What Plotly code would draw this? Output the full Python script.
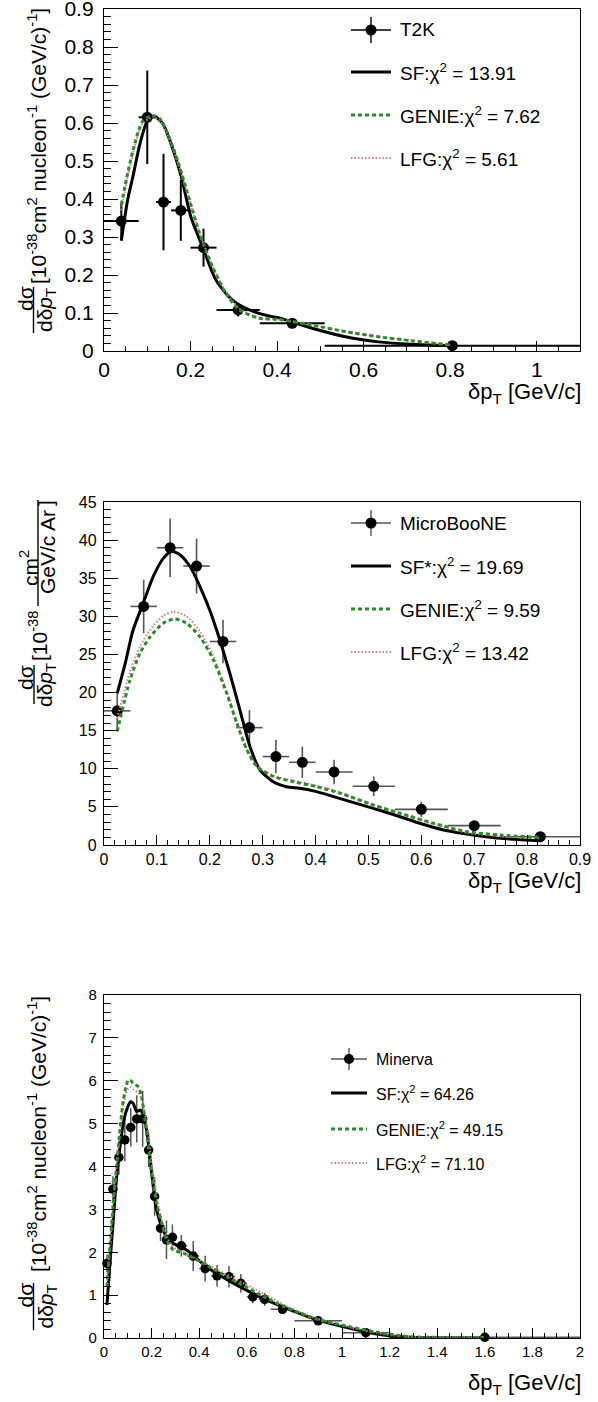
import numpy as np
import plotly.graph_objects as go

W, H = 598, 1402
FONT = "Liberation Sans, Arial, sans-serif"
GREEN = "#2c8c2c"
PINK = "#e27a8c"
ERRGRAY = "#555555"

# ---------------- T2K ----------------
t2k_edges = [0.0, 0.08, 0.12, 0.155, 0.2, 0.26, 0.36, 0.51, 1.1]
t2k_xsec = [0.342, 0.615, 0.392, 0.370, 0.272, 0.108, 0.073, 0.014]
t2k_err = [0.046, 0.123, 0.127, 0.080, 0.050, 0.017, 0.008, 0.004]

t2k_sf_x = [0.04, 0.055, 0.067, 0.083, 0.1, 0.117, 0.136, 0.155, 0.179, 0.201, 0.228, 0.259,
            0.297, 0.336, 0.389, 0.405, 0.481, 0.558, 0.634, 0.711, 0.8]
t2k_sf_y = [0.29, 0.40, 0.46, 0.545, 0.605, 0.617, 0.598, 0.545, 0.457, 0.352, 0.274, 0.186,
            0.134, 0.108, 0.090, 0.087, 0.060, 0.0375, 0.024, 0.0175, 0.014]
t2k_genie_x = [0.04, 0.055, 0.067, 0.08, 0.09, 0.113, 0.13, 0.144, 0.16, 0.175, 0.198, 0.221,
               0.251, 0.282, 0.313, 0.359, 0.405, 0.481, 0.558, 0.634, 0.711, 0.8]
t2k_genie_y = [0.385, 0.47, 0.528, 0.58, 0.606, 0.62, 0.61, 0.58, 0.535, 0.484, 0.396, 0.309,
               0.221, 0.151, 0.108, 0.086, 0.083, 0.068, 0.051, 0.0375, 0.027, 0.016]
t2k_lfg_x = t2k_genie_x
t2k_lfg_y = [0.37, 0.46, 0.52, 0.575, 0.60, 0.615, 0.605, 0.575, 0.53, 0.48, 0.395, 0.31,
             0.224, 0.155, 0.112, 0.088, 0.083, 0.069, 0.052, 0.038, 0.027, 0.016]

# ---------------- MicroBooNE ----------------
ub_edges = [0.0, 0.05, 0.1, 0.15, 0.2, 0.25, 0.3, 0.35, 0.4, 0.47, 0.55, 0.65, 0.75, 0.9]
ub_xsec = [17.6, 31.3, 39.0, 36.6, 26.7, 15.4, 11.6, 10.85, 9.58, 7.70, 4.68, 2.54, 1.09]
ub_err = [2.5, 3.5, 3.85, 3.6, 2.85, 2.3, 2.2, 2.05, 1.6, 1.3, 1.0, 0.5, 0.2]

ub_sf_x = [0.025, 0.040, 0.055, 0.074, 0.093, 0.112, 0.128, 0.144, 0.163, 0.1815, 0.200, 0.219,
           0.238, 0.257, 0.276, 0.295, 0.32, 0.345, 0.37, 0.402, 0.434, 0.509, 0.56, 0.597,
           0.642, 0.698, 0.749, 0.825]
ub_sf_y = [19.9, 23.8, 28.2, 31.7, 35.2, 37.6, 38.5, 38.05, 36.5, 33.9, 30.8, 26.9,
           22.5, 17.7, 12.9, 9.84, 8.3, 7.65, 7.44, 7.0, 6.34, 4.81, 3.71, 2.85,
           1.97, 1.31, 0.87, 0.56]
ub_genie_x = [0.025, 0.049, 0.068, 0.087, 0.112, 0.134, 0.156, 0.1815, 0.2067, 0.232, 0.251,
              0.270, 0.289, 0.32, 0.358, 0.402, 0.446, 0.509, 0.56, 0.623, 0.686, 0.749, 0.825]
ub_genie_y = [14.9, 21.6, 25.15, 27.3, 29.1, 29.65, 29.1, 27.3, 24.3, 19.9, 16.0,
              12.5, 10.3, 9.0, 8.3, 7.65, 6.8, 5.25, 4.16, 2.85, 1.75, 1.31, 1.0]
ub_lfg_x = [0.025, 0.049, 0.068, 0.087, 0.112, 0.132, 0.156, 0.1815, 0.2067, 0.232, 0.251,
            0.270, 0.289, 0.32, 0.358, 0.402, 0.446, 0.509, 0.56, 0.623, 0.686, 0.749, 0.825]
ub_lfg_y = [16.6, 22.7, 26.0, 28.2, 30.1, 30.6, 30.0, 28.0, 24.8, 20.2, 16.2,
            12.6, 10.4, 9.1, 8.45, 7.8, 6.9, 5.3, 4.15, 2.75, 1.6, 1.15, 0.85]

# ---------------- Minerva ----------------
mn_edges = [0.0, 0.025, 0.05, 0.075, 0.1, 0.125, 0.15, 0.175, 0.2, 0.225, 0.25, 0.275, 0.3,
            0.35, 0.4, 0.45, 0.5, 0.55, 0.6, 0.65, 0.7, 0.8, 1.0, 1.2, 2.0]
mn_xsec = [1.74, 3.47, 4.21, 4.62, 4.91, 5.11, 5.11, 4.385, 3.30, 2.56, 2.29, 2.35, 2.15,
           1.91, 1.62, 1.45, 1.43, 1.275, 0.96, 0.90, 0.67, 0.40, 0.124, 0.016]
mn_err = [0.2, 0.3, 0.4, 0.5, 0.45, 0.55, 0.65, 0.4, 0.45, 0.3, 0.45, 0.3, 0.25,
          0.35, 0.3, 0.25, 0.25, 0.22, 0.15, 0.15, 0.1, 0.08, 0.04, 0.01]

mn_sf_x = [0.0125, 0.025, 0.039, 0.053, 0.067, 0.081, 0.095, 0.112, 0.123, 0.137, 0.152, 0.165,
           0.179, 0.193, 0.207, 0.221, 0.242, 0.263, 0.291, 0.347, 0.431, 0.543, 0.655, 0.753,
           0.824, 0.893, 1.034, 1.173, 1.286, 1.45, 1.6]
mn_sf_y = [0.77, 1.74, 2.75, 3.76, 4.46, 5.01, 5.32, 5.51, 5.47, 5.28, 5.32, 5.20,
           4.85, 4.23, 3.53, 2.99, 2.60, 2.36, 2.21, 2.05, 1.66, 1.28, 0.96, 0.72,
           0.57, 0.43, 0.226, 0.07, 0.016, 0.0, 0.0]
mn_genie_x = [0.0125, 0.025, 0.039, 0.053, 0.067, 0.081, 0.092, 0.102, 0.113, 0.123, 0.144,
              0.158, 0.172, 0.186, 0.2, 0.221, 0.242, 0.263, 0.291, 0.333, 0.403, 0.543, 0.683,
              0.753, 0.824, 0.893, 1.034, 1.173, 1.286, 1.454, 1.6]
mn_genie_y = [1.2, 2.13, 3.14, 4.0, 4.85, 5.55, 5.85, 6.02, 6.0, 5.94, 5.86,
              5.63, 5.08, 4.46, 3.84, 3.14, 2.68, 2.29, 2.05, 1.98, 1.78, 1.35, 0.93,
              0.74, 0.58, 0.44, 0.26, 0.11, 0.03, 0.012, 0.01]
mn_lfg_x = mn_genie_x
mn_lfg_y = [1.25, 2.2, 3.2, 4.05, 4.8, 5.4, 5.7, 5.82, 5.85, 5.8, 5.72,
            5.6, 5.25, 4.75, 4.1, 3.3, 2.78, 2.38, 2.12, 2.0, 1.8, 1.4, 1.0,
            0.78, 0.6, 0.45, 0.25, 0.09, 0.02, 0.005, 0.005]

# legend labels
t2k_labels = ["T2K", "SF:χ<sup>2</sup> = 13.91", "GENIE:χ<sup>2</sup> = 7.62", "LFG:χ<sup>2</sup> = 5.61"]
ub_labels = ["MicroBooNE", "SF*:χ<sup>2</sup> = 19.69", "GENIE:χ<sup>2</sup> = 9.59", "LFG:χ<sup>2</sup> = 13.42"]
mn_labels = ["Minerva", "SF:χ<sup>2</sup> = 64.26", "GENIE:χ<sup>2</sup> = 49.15", "LFG:χ<sup>2</sup> = 71.10"]

# pixel layout of the three frames (left, right, top, bottom)
PANELS = [(104, 580, 9, 351), (104, 580, 502, 845), (104, 580, 995, 1338)]


def px(x):
    return x / W


def py(y):
    return 1 - y / H


def bins(edges):
    e = np.asarray(edges)
    return (e[:-1] + e[1:]) / 2, (e[1:] - e[:-1]) / 2


fig = go.Figure()

SF_LINE = dict(color="black", width=3)
GENIE_LINE = dict(color=GREEN, width=3, dash="4px,3px")
LFG_LINE = dict(color=PINK, width=2, dash="1.5px,2px")


def add_panel(i, edges, vals, errs, sf, genie, lfg, msize, errcolor, errw):
    xa = "x" if i == 0 else f"x{i + 1}"
    ya = "y" if i == 0 else f"y{i + 1}"
    cx, hw = bins(edges)
    fig.add_trace(go.Scatter(
        x=cx, y=vals, mode="markers", xaxis=xa, yaxis=ya, cliponaxis=False,
        marker=dict(size=msize, color="black"),
        error_x=dict(type="data", array=hw, width=0, thickness=errw, color=errcolor),
        error_y=dict(type="data", array=errs, width=0, thickness=errw, color=errcolor),
        showlegend=False))
    for (xs, ys), line in ((sf, SF_LINE), (lfg, LFG_LINE), (genie, GENIE_LINE)):
        fig.add_trace(go.Scatter(x=xs, y=ys, mode="lines", xaxis=xa, yaxis=ya,
                                 line=dict(shape="spline", smoothing=0.7, **line),
                                 showlegend=False))


add_panel(0, t2k_edges, t2k_xsec, t2k_err, (t2k_sf_x, t2k_sf_y), (t2k_genie_x, t2k_genie_y),
          (t2k_lfg_x, t2k_lfg_y), 11, "black", 2)
add_panel(1, ub_edges, ub_xsec, ub_err, (ub_sf_x, ub_sf_y), (ub_genie_x, ub_genie_y),
          (ub_lfg_x, ub_lfg_y), 11, ERRGRAY, 1.6)
add_panel(2, mn_edges, mn_xsec, mn_err, (mn_sf_x, mn_sf_y), (mn_genie_x, mn_genie_y),
          (mn_lfg_x, mn_lfg_y), 9.5, ERRGRAY, 1.5)


def axis(domain, rng, dtick, minor, fsize, ticklen, anchor, standoff):
    return dict(domain=domain, range=rng, dtick=dtick, tick0=0, showline=True, linecolor="black",
                linewidth=1.4, mirror=True, ticks="inside", ticklen=ticklen, tickwidth=1.3,
                tickcolor="black", showgrid=False, zeroline=False, anchor=anchor,
                ticklabelstandoff=standoff, automargin=False, ticklabeloverflow="allow",
                tickfont=dict(family=FONT, size=fsize, color="black"),
                minor=dict(ticks="inside", ticklen=ticklen // 2, tickwidth=1.1, tickcolor="black",
                           dtick=minor, tick0=0, showgrid=False))


specs = [
    # x range, x major, x minor, y range, y major, y minor, font
    ([0, 1.1], 0.2, 0.05, [0, 0.9], 0.1, 0.02, 21),
    ([0, 0.9], 0.1, 0.02, [0, 45], 5, 1, 16),
    ([0, 2.0], 0.2, 0.05, [0, 8], 1, 0.2, 15),
]
layout_axes = {}
for i, ((l, r, t, b), (xr, xd, xm, yr, yd, ym, fs)) in enumerate(zip(PANELS, specs)):
    sx = "" if i == 0 else str(i + 1)
    layout_axes[f"xaxis{sx}"] = axis([px(l), px(r)], xr, xd, xm, fs, 10, f"y{sx}", 0)
    layout_axes[f"yaxis{sx}"] = axis([py(b), py(t)], yr, yd, ym, fs, 14, f"x{sx}", 5 if i == 0 else 3)

annotations = []
shapes = []


def text(s, x, y, size, angle=0, xanchor="center", yanchor="middle"):
    annotations.append(dict(text=s, x=px(x), y=py(y), xref="paper", yref="paper", showarrow=False,
                            textangle=angle, xanchor=xanchor, yanchor=yanchor, borderpad=0,
                            font=dict(family=FONT, size=size, color="black")))


def seg(x0, y0, x1, y1, color="black", width=1.5, dash=None):
    ln = dict(color=color, width=width)
    if dash:
        ln["dash"] = dash
    shapes.append(dict(type="line", xref="paper", yref="paper", x0=px(x0), y0=py(y0),
                       x1=px(x1), y1=py(y1), line=ln))


def dot(x, y, d):
    shapes.append(dict(type="circle", xref="paper", yref="paper", xsizemode="pixel",
                       ysizemode="pixel", xanchor=px(x), yanchor=py(y), x0=-d / 2, x1=d / 2,
                       y0=-d / 2, y1=d / 2, fillcolor="black", line=dict(width=0)))


def legend(labels, x0, x1, xt, rows, bar, d, fsize, errcolor):
    xm = (x0 + x1) / 2
    seg(x0, rows[0], x1, rows[0], errcolor, 1.4)
    seg(xm, rows[0] - bar, xm, rows[0] + bar, errcolor, 1.4)
    dot(xm, rows[0], d)
    seg(x0, rows[1], x1, rows[1], "black", 3)
    seg(x0, rows[2], x1, rows[2], GREEN, 3, "4px,3px")
    seg(x0, rows[3], x1, rows[3], PINK, 2, "1.5px,2px")
    for lab, yy in zip(labels, rows):
        text(lab, xt, yy, fsize, xanchor="left")


legend(t2k_labels, 351, 391, 399, [30, 72, 115, 158], 13, 11, 19, "black")
legend(ub_labels, 351, 391, 399, [523, 566, 609, 652], 13, 11, 19, ERRGRAY)
legend(mn_labels, 331, 367, 375, [1059, 1093, 1129, 1163], 11, 10, 16, ERRGRAY)

# x-axis titles
XT = "δp<sub>T</sub> [GeV/c]"
text(XT, 582, 393, 22, xanchor="right")
text(XT, 582, 882, 22, xanchor="right")
text(XT, 582, 1384, 22, xanchor="right")

# y-axis titles
BRACKET = "[10<sup>-38</sup>cm<sup>2</sup> nucleon<sup>-1</sup> (GeV/c)<sup>-1</sup>]"
DEN = "dδ<i>p</i><sub>T</sub>"
for top, fr0, fr1 in ((146, 287, 333), (1134, 1283, 1330)):
    text(BRACKET, 37, top, 21, angle=-90)
    text("dσ", 25, (fr0 + fr1) / 2 - 11, 21, angle=-90)
    seg(33.5, fr0, 33.5, fr1, "black", 1.4)
    text(DEN, 46, (fr0 + fr1) / 2, 21, angle=-90)

text("dσ", 25, 678, 21, angle=-90)
seg(34, 665, 34, 704, "black", 1.4)
text(DEN, 46, 685, 21, angle=-90)
text("[10<sup>-38</sup>", 38, 636, 21, angle=-90)
text("cm<sup>2</sup>", 29, 568, 21, angle=-90)
seg(38, 500, 38, 606, "black", 1.4)
text("GeV/c Ar", 48, 552, 21, angle=-90)
text("]", 46, 503, 21, angle=-90)

fig.update_layout(
    width=W, height=H, autosize=False,
    margin=dict(l=0, r=0, t=0, b=0, autoexpand=False),
    paper_bgcolor="white", plot_bgcolor="white",
    showlegend=False,
    annotations=annotations, shapes=shapes,
    **layout_axes,
)

fig.write_html("out.html", post_script="document.body.style.margin='0';")
